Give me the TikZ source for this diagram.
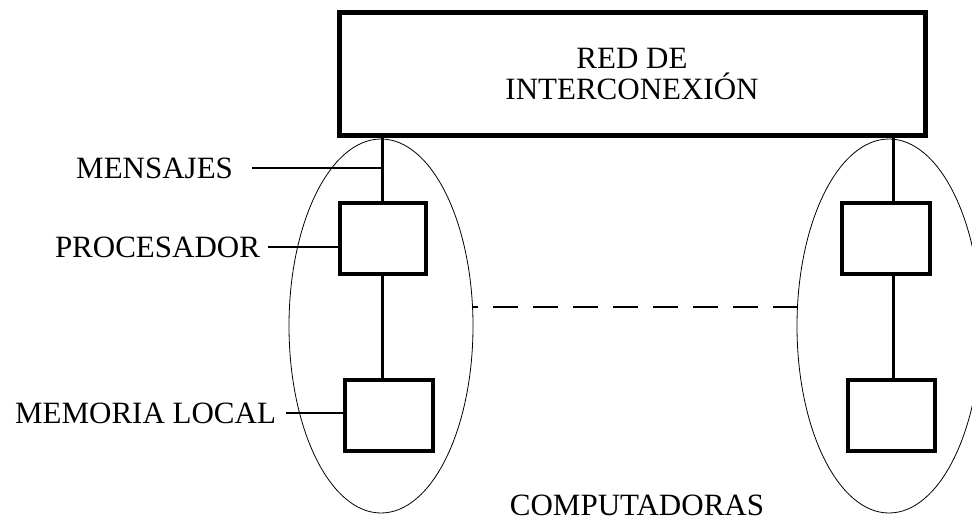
\documentclass[tikz,border=0pt]{standalone}
\usepackage{fontspec}
\setmainfont{Liberation Serif}
\usetikzlibrary{shapes.geometric}
\begin{document}
\begin{tikzpicture}[x=1pt,y=-1pt,
  bigfont/.style={font=\fontsize{31}{31}\selectfont},
  unitbox/.style={draw,line width=4pt,rectangle,inner sep=0pt},
  link/.style={line width=3pt},
  leader/.style={line width=1.1pt},
  lbl/.style={bigfont,inner sep=0pt,text height=20pt,text depth=0pt,anchor=east},
  cluster/.style={draw,ellipse,inner sep=0pt,line width=0.8pt,minimum width=184pt,minimum height=374pt}]
  \useasboundingbox (0,0) rectangle (972,520);

  % interconnection network
  \node[draw,line width=5pt,minimum width=586pt,minimum height=123pt,bigfont,align=center,inner sep=0pt]
    (net) at (632,73.5) {RED DE\\[0pt]INTERCONEXIÓN};

  % the two computers
  \node[cluster] (ellL) at (381,326) {};
  \node[cluster] (ellR) at (889,326) {};

  \node[unitbox,minimum width=86pt,minimum height=71pt] (pL) at (383,238.5) {};
  \node[unitbox,minimum width=88pt,minimum height=71pt] (mL) at (389,415.5) {};
  \node[unitbox,minimum width=88pt,minimum height=71pt] (pR) at (886,238.5) {};
  \node[unitbox,minimum width=87pt,minimum height=71pt] (mR) at (891.5,415.5) {};

  \coordinate (cL) at (382,0);
  \coordinate (cR) at (893,0);
  \draw[link] (net.south -| cL) -- (pL.north -| cL);
  \draw[link] (pL.south -| cL) -- (mL.north -| cL);
  \draw[link] (net.south -| cR) -- (pR.north -| cR);
  \draw[link] (pR.south -| cR) -- (mR.north -| cR);

  % labels and leader lines
  \node[lbl,outer xsep=19pt] (mens) at (252,168) {MENSAJES};
  \node[lbl,outer xsep=8pt] (proc) at (268,247) {PROCESADOR};
  \node[lbl,outer xsep=10pt] (mem) at (286,413) {MEMORIA LOCAL};
  \draw[leader] (mens.east) -- (mens.east -| cL);
  \draw[leader] (proc.east) -- (proc.east -| pL.west);
  \draw[leader] (mem.east) -- (mem.east -| mL.west);

  % dashed link between computers
  \coordinate (dl) at (0,307);
  \draw[line width=1.1pt,dash pattern=on 25pt off 15pt,dash phase=20pt]
    (ellL.east |- dl) -- (ellR.west |- dl);

  \node[bigfont,inner sep=0pt,text height=20pt,text depth=0pt] (comp) at (637,505) {COMPUTADORAS};
\end{tikzpicture}
\end{document}
